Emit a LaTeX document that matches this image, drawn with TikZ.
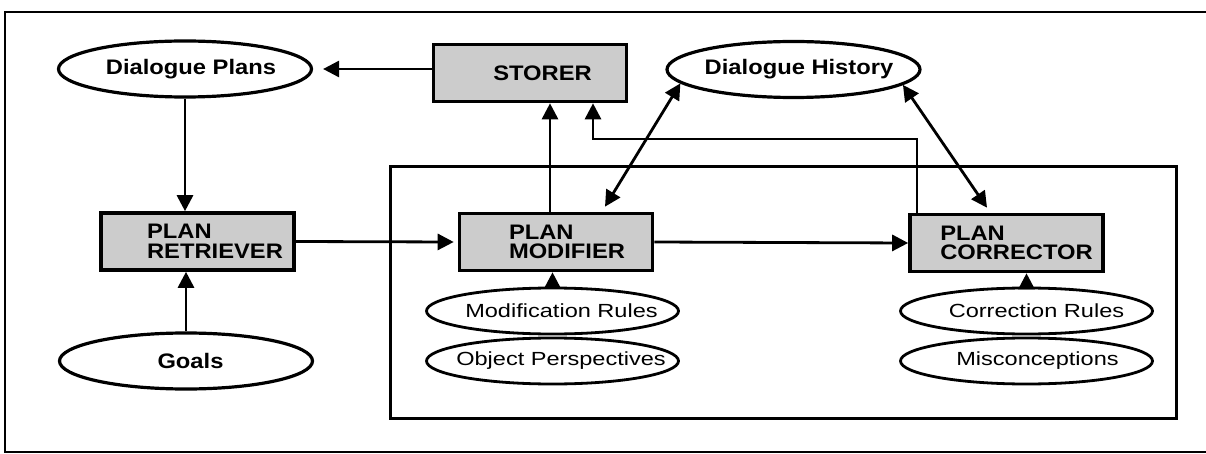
\documentclass[tikz,border=0pt]{standalone}
\usepackage{fontspec}
\setmainfont[FakeStretch=1.13]{Liberation Sans}
\newfontfamily\rulefont[FakeStretch=1.24]{Liberation Sans}
\usetikzlibrary{shapes.geometric,arrows.meta}

\begin{document}
\begin{tikzpicture}[x=1pt,y=-1pt,
  unit/.style={draw,line width=3.6pt,fill=gray!40,minimum width=193pt,minimum height=57pt,inner sep=0pt},
  store/.style={draw,ellipse,line width=3.2pt,minimum width=253pt,minimum height=56pt,inner sep=0pt},
  rulebase/.style={draw,ellipse,line width=2.8pt,minimum width=252pt,minimum height=46pt,inner sep=0pt},
  unittext/.style={font=\fontsize{21}{19.5}\selectfont\bfseries,align=left,inner sep=0pt},
  storetext/.style={font=\fontsize{21}{24}\selectfont\bfseries,inner sep=0pt},
  ruletext/.style={font=\rulefont\fontsize{19}{22}\selectfont,inner sep=0pt},
  flow/.style={line width=2.8pt,-{Triangle[length=16pt,width=16pt]}},
  both/.style={line width=2.8pt,{Triangle[length=16pt,width=16pt]}-{Triangle[length=16pt,width=16pt]}}]
\useasboundingbox (0,0) rectangle (1206,454);

% outer frame and the inner box
\draw[line width=2.4pt] (1206,12) -- (5,12) -- (5,452) -- (1206,452);
\draw[line width=3pt] (390,167) rectangle (1176,418);

% data stores
\node[store] (dplans) at (185,69) {};
\node[storetext] (dplans-t) at ([xshift=6pt]dplans) {Dialogue Plans};
\node[store] (dhist) at (793.5,69.5) {};
\node[storetext] (dhist-t) at ([xshift=5.5pt]dhist) {Dialogue History};
\node[store] (goals) at (186,361) {};
\node[storetext] (goals-t) at ([xshift=4.5pt]goals) {Goals};

% processing units
\node[unit] (storer) at (530,73) {};
\node[unittext] (storer-t) at ([xshift=12.5pt]storer) {STORER};
\node[unit] (retriever) at (197.5,241.5) {};
\node[unittext] (retriever-t) at ([xshift=17.5pt]retriever) {PLAN\\RETRIEVER};
\node[unit] (modifier) at (556,242) {};
\node[unittext] (modifier-t) at ([xshift=11pt]modifier) {PLAN\\MODIFIER};
\node[unit] (corrector) at (1006.5,243) {};
\node[unittext] (corrector-t) at ([xshift=10pt]corrector) {PLAN\\CORRECTOR};

% rule bases
\node[rulebase] (mrules) at (552.5,311) {};
\node[ruletext] (mrules-t) at ([xshift=9pt]mrules) {Modification Rules};
\node[rulebase] (objpersp) at (552.5,361) {};
\node[ruletext] (objpersp-t) at ([xshift=8.5pt]objpersp) {Object Perspectives};
\node[rulebase] (crules) at (1026.5,311) {};
\node[ruletext] (crules-t) at ([xshift=10pt]crules) {Correction Rules};
\node[rulebase] (misconc) at (1026.5,361) {};
\node[ruletext] (misconc-t) at ([xshift=11pt]misconc) {Misconceptions};

% connections
\draw[flow] (storer.west |- dplans) -- ([xshift=10pt]dplans.east);
\draw[flow] (dplans.south) -- (dplans.south |- retriever.north);
\draw[flow] (goals.north) -- (goals.north |- retriever.south);
\draw[flow] (retriever.east) -- ([xshift=-4pt]modifier.west);
\draw[flow] (modifier.east) -- (corrector.west);
\draw[flow] ([xshift=-6pt]modifier.north) -- ([xshift=-6pt]modifier.north |- storer.south);
\coordinate (bend) at (593,139);
\draw[flow] ([xshift=-89.5pt]corrector.north) |- (bend) -- (bend |- storer.south);
\draw[flow] (mrules.north) -- (mrules.north |- modifier.south);
\draw[flow] (crules.north) -- (crules.north |- corrector.south);
\draw[both] (dhist.187) -- ([xshift=49pt,yshift=5pt]modifier.north);
\draw[both] (dhist.352) -- ([xshift=-19.5pt,yshift=5pt]corrector.north);
\end{tikzpicture}
\end{document}
